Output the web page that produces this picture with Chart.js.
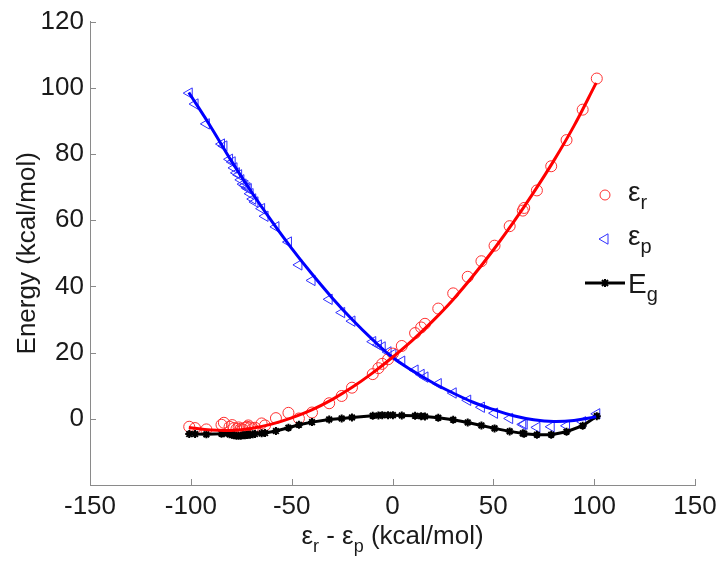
<!DOCTYPE html>
<html lang="en">
<head>
<meta charset="UTF-8" />
<title>Energy vs εr - εp</title>
<script src="https://cdn.jsdelivr.net/npm/chart.js@4"></script>
<style>
  html, body { margin: 0; padding: 0; background: #fff; }
  #wrap { width: 724px; height: 566px; }
</style>
</head>
<body>
<div id="wrap"><canvas id="energyChart" width="724" height="566"></canvas></div>
<script>
// sampled points, x = εr - εp (kcal/mol)
const gapX = [-100.8, -97.9, -92.3, -84.8, -83.6, -80.8, -79.5, -78.6, -77.4, -76.3,
  -75.2, -74.1, -73.2, -72.2, -71.5, -70.6, -69.3, -68.2, -64.9, -63.2,
  -57.8, -51.6, -46.4, -39.9, -31.4, -25.2, -20.1, -9.8, -7.0, -5.1,
  -2.2, 0.2, 4.6, 11.2, 14.2, 16.1, 22.7, 30.1, 37.3, 44.1,
  50.6, 58.1, 64.6, 65.3, 71.6, 78.7, 86.3, 94.3, 101.3];
const epsR = [-2.4, -2.8, -3.2, -1.8, -1.2, -2.4, -1.9, -2.8, -3.1, -2.6,
  -3.0, -3.2, -2.7, -2.4, -2.0, -2.6, -2.9, -2.7, -1.4, -2.0,
  0.2, 1.8, 0.1, 1.9, 4.7, 6.9, 9.4, 13.5, 15.3, 16.6,
  18.0, 19.7, 22.0, 25.9, 27.6, 28.7, 33.3, 37.9, 42.9, 47.6,
  52.3, 58.2, 62.9, 63.7, 69.0, 76.3, 84.2, 93.4, 102.8];
const epsP = [98.4, 95.1, 89.1, 83.0, 82.4, 78.4, 77.6, 75.8, 74.3, 73.7,
  72.2, 70.9, 70.5, 69.8, 69.5, 68.0, 66.4, 65.5, 63.5, 61.2,
  58.0, 53.4, 46.5, 41.8, 36.1, 32.1, 29.5, 23.3, 22.3, 21.7,
  20.2, 19.5, 17.4, 14.7, 13.4, 12.6, 10.6, 7.8, 5.6, 3.5,
  1.7, 0.1, -1.7, -1.6, -2.6, -2.4, -2.1, -0.9, 1.5];
const energyG = [-4.6, -4.6, -4.7, -4.5, -4.4, -4.7, -4.8, -5.0, -5.1, -5.1,
  -5.1, -5.0, -5.0, -4.9, -4.8, -4.8, -4.7, -4.6, -4.4, -4.3,
  -3.7, -2.7, -1.8, -1.0, -0.2, 0.1, 0.4, 0.9, 1.0, 1.1,
  1.1, 1.1, 1.0, 0.9, 0.8, 0.7, 0.3, -0.3, -1.1, -2.0,
  -2.9, -3.8, -4.4, -4.5, -4.8, -4.8, -3.9, -2.1, 0.8];

// fitted curves
const fitX = [-101, -90, -80, -70, -60, -50, -40, -30, -20, -10, 0,
  10, 20, 30, 40, 50, 60, 70, 80, 90, 101];
const fitR = [-2.6, -3.4, -3.5, -2.9, -1.6, 0.3, 2.7, 5.8, 9.5, 13.8, 18.6,
  23.8, 29.6, 36.0, 43.2, 51.0, 59.4, 68.4, 78.0, 88.5, 101.5];
const fitP = [98.6, 88.1, 78.0, 68.6, 59.8, 51.5, 43.8, 36.6, 30.0, 24.0, 18.6,
  14.5, 10.9, 7.8, 5.0, 2.8, 0.9, -0.3, -0.8, -0.5, 0.6];

const xTicks = [-150, -100, -50, 0, 50, 100, 150];
const yTicks = [-20, 0, 20, 40, 60, 80, 100, 120];

const FONT = '"Liberation Sans", Arial, sans-serif';
const AXIS_GREY = '#8a8a8a';
const TXT = '#1a1a1a';

function pts(xs, ys) {
  return xs.map((x, i) => ({ x: x, y: ys[i] }));
}

// draw text pieces with subscripts, starting at x
function drawSubText(ctx, parts, x, y, size) {
  let cx = x;
  parts.forEach(p => {
    ctx.font = (p.sub ? Math.round(size * 0.7) : size) + 'px ' + FONT;
    ctx.fillText(p.t, cx, p.sub ? y + size * 0.3 : y);
    cx += ctx.measureText(p.t).width;
  });
  return cx;
}
function subTextWidth(ctx, parts, size) {
  let w = 0;
  parts.forEach(p => {
    ctx.font = (p.sub ? Math.round(size * 0.7) : size) + 'px ' + FONT;
    w += ctx.measureText(p.t).width;
  });
  return w;
}

const decorPlugin = {
  id: 'decor',
  beforeDatasetsDraw(chart) {
    const ctx = chart.ctx;
    const xs = chart.scales.x, ys = chart.scales.y;
    const area = chart.chartArea;
    ctx.save();
    ctx.strokeStyle = AXIS_GREY;
    ctx.lineWidth = 1;
    ctx.beginPath();
    xTicks.forEach(v => {
      if (v === xTicks[0]) return;
      const px = Math.round(xs.getPixelForValue(v)) + 0.5;
      ctx.moveTo(px, area.bottom);
      ctx.lineTo(px, area.bottom - 6);
    });
    yTicks.forEach(v => {
      if (v === yTicks[0]) return;
      const py = Math.round(ys.getPixelForValue(v)) + 0.5;
      ctx.moveTo(area.left, py);
      ctx.lineTo(area.left + 6, py);
    });
    ctx.stroke();
    ctx.restore();
  },
  afterDraw(chart) {
    const ctx = chart.ctx;
    const area = chart.chartArea;
    ctx.save();
    ctx.fillStyle = TXT;
    ctx.textBaseline = 'alphabetic';
    ctx.textAlign = 'left';

    // x axis title with subscripts
    const title = [
      { t: 'ε', sub: false }, { t: 'r', sub: true },
      { t: ' - ε', sub: false }, { t: 'p', sub: true },
      { t: ' (kcal/mol)', sub: false }
    ];
    const w = subTextWidth(ctx, title, 26);
    drawSubText(ctx, title, (area.left + area.right) / 2 - w / 2, 544, 26);

    // legend
    const lx = 605, tx = 628;
    const rows = [195, 239, 283];
    ctx.lineWidth = 1;
    ctx.strokeStyle = '#ff3030';
    ctx.beginPath();
    ctx.arc(lx, rows[0], 5, 0, Math.PI * 2);
    ctx.stroke();
    drawSubText(ctx, [{ t: 'ε', sub: false }, { t: 'r', sub: true }], tx, rows[0] + 6, 28);

    ctx.strokeStyle = '#3030ff';
    ctx.lineWidth = 1;
    ctx.beginPath();
    ctx.moveTo(lx - 6, rows[1]);
    ctx.lineTo(lx + 3, rows[1] - 5.2);
    ctx.lineTo(lx + 3, rows[1] + 5.2);
    ctx.closePath();
    ctx.stroke();
    drawSubText(ctx, [{ t: 'ε', sub: false }, { t: 'p', sub: true }], tx, rows[1] + 6, 28);

    ctx.strokeStyle = '#000';
    ctx.lineWidth = 3;
    ctx.beginPath();
    ctx.moveTo(585, rows[2]);
    ctx.lineTo(625, rows[2]);
    ctx.stroke();
    ctx.lineWidth = 2;
    ctx.beginPath();
    [[4, 0], [0, 4], [3, 3], [3, -3]].forEach(d => {
      ctx.moveTo(lx - d[0], rows[2] - d[1]);
      ctx.lineTo(lx + d[0], rows[2] + d[1]);
    });
    ctx.stroke();
    drawSubText(ctx, [{ t: 'E', sub: false }, { t: 'g', sub: true }], tx, rows[2] + 10, 28);
    ctx.restore();
  }
};

new Chart(document.getElementById('energyChart'), {
  type: 'scatter',
  data: {
    datasets: [
      {
        label: 'εr fit',
        data: pts(fitX, fitR),
        showLine: true,
        borderColor: '#ff0000',
        borderWidth: 3,
        pointRadius: 0,
        tension: 0.4
      },
      {
        label: 'εp fit',
        data: pts(fitX, fitP),
        showLine: true,
        borderColor: '#0000ff',
        borderWidth: 3,
        pointRadius: 0,
        tension: 0.4
      },
      {
        label: 'Eg',
        data: pts(gapX, energyG),
        showLine: true,
        borderColor: '#000000',
        backgroundColor: '#000000',
        borderWidth: 3,
        pointStyle: 'star',
        pointRadius: 4,
        pointBorderWidth: 2,
        tension: 0
      },
      {
        label: 'εr',
        data: pts(gapX, epsR),
        borderColor: '#ff3030',
        backgroundColor: 'rgba(0,0,0,0)',
        pointStyle: 'circle',
        pointRadius: 5.5,
        pointBorderWidth: 1
      },
      {
        label: 'εp',
        data: pts(gapX, epsP),
        borderColor: '#3030ff',
        backgroundColor: 'rgba(0,0,0,0)',
        pointStyle: 'triangle',
        rotation: -90,
        pointRadius: 6,
        pointBorderWidth: 1
      }
    ]
  },
  options: {
    responsive: false,
    animation: false,
    layout: { padding: { left: 0, right: 29, top: 15, bottom: 0 } },
    plugins: {
      legend: { display: false },
      tooltip: { enabled: false }
    },
    scales: {
      x: {
        type: 'linear',
        min: -150,
        max: 150,
        afterBuildTicks: s => { s.ticks = xTicks.map(v => ({ value: v })); },
        afterFit: s => { s.height = 81; },
        grid: { display: false, drawTicks: false },
        border: { display: true, color: AXIS_GREY, width: 1 },
        ticks: {
          padding: 6,
          color: TXT,
          font: { family: FONT, size: 26 },
          maxRotation: 0
        }
      },
      y: {
        type: 'linear',
        min: -20,
        max: 120,
        afterBuildTicks: s => { s.ticks = yTicks.map(v => ({ value: v })); },
        afterFit: s => { s.width = 90; },
        grid: { display: false, drawTicks: false },
        border: { display: true, color: AXIS_GREY, width: 1 },
        ticks: {
          padding: 6,
          color: TXT,
          font: { family: FONT, size: 26 },
          callback: v => (v === yTicks[0] ? '' : v)
        },
        title: {
          display: true,
          text: 'Energy (kcal/mol)',
          color: TXT,
          font: { family: FONT, size: 26 },
          padding: { top: 12, bottom: 0 }
        }
      }
    }
  },
  plugins: [decorPlugin]
});
</script>
</body>
</html>
